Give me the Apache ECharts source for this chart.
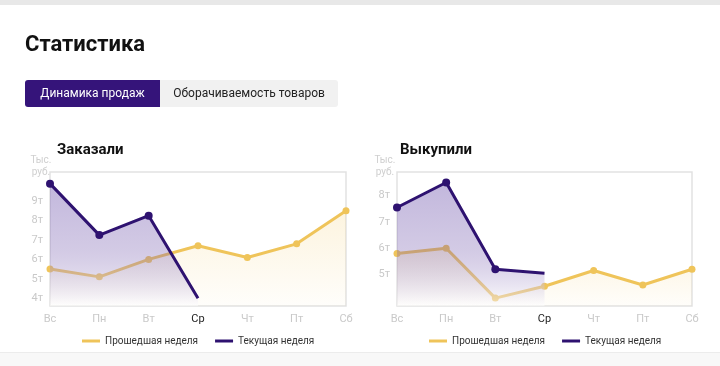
<!DOCTYPE html>
<html>
<head>
<meta charset="utf-8">
<script src="https://cdn.jsdelivr.net/npm/echarts@6/dist/echarts.min.js"></script>
<style>
html,body{margin:0;padding:0;background:#fff;}
#c{width:720px;height:366px;}
</style>
</head>
<body>
<div id="c"></div>
<script>
const days = ['Вс','Пн','Вт','Ср','Чт','Пт','Сб'];
const todayIndex = 3;
const orderedPrev = [5.5, 5.1, 6.0, 6.7, 6.1, 6.8, 8.5];
const orderedCur = [9.9, 7.25, 8.25, 4.0];
const boughtPrev = [5.8, 6.0, 4.1, 4.55, 5.15, 4.6, 5.2];
const boughtCur = [7.55, 8.5, 5.2, 5.05];
const orderedTicks = [4, 5, 6, 7, 8, 9];
const boughtTicks = [5, 6, 7, 8];
const prevName = 'Прошедшая неделя';
const curName = 'Текущая неделя';

const FONT = 'Roboto, "Noto Sans", sans-serif';
const YEL = '#efc45a';
const PUR = '#2e1270';

const chart = echarts.init(document.getElementById('c'), null, {renderer:'canvas'});

function xAxisFor(gi){
  return {
    type:'category', gridIndex:gi, boundaryGap:false,
    data: days.map((d,i)=> i===todayIndex ? {value:d, textStyle:{color:'#222'}} : d),
    axisLine:{show:false}, axisTick:{show:false}, splitLine:{show:false},
    axisLabel:{color:'#c9c9c9', fontSize:11, fontFamily:FONT, margin:8}
  };
}
function yAxisFor(gi, min, max, ticks){
  return {
    type:'value', gridIndex:gi, min:min, max:max,
    axisLine:{show:false}, axisTick:{show:false}, splitLine:{show:false},
    axisLabel:{customValues:ticks, formatter:v=>v+'т', color:'#c9c9c9', fontSize:11, fontFamily:FONT, margin:7}
  };
}
function curData(arr){
  return arr.map((v,i)=> i===arr.length-1 ? {value:v, symbol:'none'} : v);
}
function prevSeries(gi, data){
  return {
    name:prevName, type:'line', xAxisIndex:gi, yAxisIndex:gi, data:data,
    symbol:'circle', symbolSize:7, z:2,
    lineStyle:{color:YEL, width:3}, itemStyle:{color:YEL},
    areaStyle:{color:new echarts.graphic.LinearGradient(0,0,0,1,[
      {offset:0,color:'rgba(242,198,90,0.28)'},{offset:1,color:'rgba(242,198,90,0.04)'}])}
  };
}
function curSeries(gi, data){
  return {
    name:curName, type:'line', xAxisIndex:gi, yAxisIndex:gi, data:curData(data),
    symbol:'circle', symbolSize:8, z:3,
    lineStyle:{color:PUR, width:3}, itemStyle:{color:PUR},
    areaStyle:{origin:'start', color:new echarts.graphic.LinearGradient(0,0,0,1,[
      {offset:0,color:'rgba(105,78,170,0.58)'},{offset:0.55,color:'rgba(115,88,172,0.45)'},{offset:1,color:'rgba(255,255,255,0.7)'}])}
  };
}
function legendFor(left){
  return {
    left:left, top:331, itemWidth:18, itemHeight:3, icon:'rect', itemGap:17,
    data:[{name:prevName, itemStyle:{color:YEL}},{name:curName, itemStyle:{color:PUR}}],
    textStyle:{color:'#333', fontSize:10, fontFamily:FONT}, selectedMode:false
  };
}

const option = {
  animation:false,
  textStyle:{fontFamily:FONT},
  grid:[
    {left:50, right:374, top:172, height:134, show:true, borderColor:'#e2e2e2', borderWidth:1.5, backgroundColor:'#fff'},
    {left:397, right:28, top:172, height:134, show:true, borderColor:'#e2e2e2', borderWidth:1.5, backgroundColor:'#fff'}
  ],
  xAxis:[xAxisFor(0), xAxisFor(1)],
  yAxis:[yAxisFor(0,3.6,10.5,orderedTicks), yAxisFor(1,3.8,8.9,boughtTicks)],
  legend:[legendFor(77), legendFor(424)],
  series:[
    prevSeries(0, orderedPrev), curSeries(0, orderedCur),
    prevSeries(1, boughtPrev), curSeries(1, boughtCur)
  ],
  graphic:[
    {type:'rect', left:0, top:0, shape:{width:720, height:5}, style:{fill:'#e8e8e8'}, silent:true},
    {type:'rect', left:0, top:352, shape:{width:720, height:14}, style:{fill:'#f8f8f8'}, silent:true},
    {type:'rect', left:0, top:352, shape:{width:720, height:1}, style:{fill:'#ececec'}, silent:true},
    {type:'text', x:25, y:45, style:{text:'Статистика', font:'bold 22px '+FONT, fill:'#111', verticalAlign:'middle'}},
    {type:'rect', left:25, top:80, shape:{width:135, height:27, r:[3,0,0,3]}, style:{fill:'#35147a'}},
    {type:'rect', left:160, top:80, shape:{width:178, height:27, r:[0,3,3,0]}, style:{fill:'#f1f1f1'}},
    {type:'text', x:92.5, y:93.5, style:{text:'Динамика продаж', font:'12px '+FONT, fill:'#fff', align:'center', verticalAlign:'middle'}},
    {type:'text', x:249, y:93.5, style:{text:'Оборачиваемость товаров', font:'12px '+FONT, fill:'#222', align:'center', verticalAlign:'middle'}},
    {type:'text', x:57, y:150, style:{text:'Заказали', font:'bold 15px '+FONT, fill:'#111', verticalAlign:'middle'}},
    {type:'text', x:400, y:150, style:{text:'Выкупили', font:'bold 15px '+FONT, fill:'#111', verticalAlign:'middle'}},
    {type:'text', x:41, y:160, style:{text:'Тыс.', font:'10px '+FONT, fill:'#cfcfcf', align:'center', verticalAlign:'middle'}},
    {type:'text', x:41, y:172, style:{text:'руб.', font:'10px '+FONT, fill:'#cfcfcf', align:'center', verticalAlign:'middle'}},
    {type:'text', x:385, y:160, style:{text:'Тыс.', font:'10px '+FONT, fill:'#cfcfcf', align:'center', verticalAlign:'middle'}},
    {type:'text', x:385, y:172, style:{text:'руб.', font:'10px '+FONT, fill:'#cfcfcf', align:'center', verticalAlign:'middle'}}
  ]
};
chart.setOption(option);
</script>
</body>
</html>
